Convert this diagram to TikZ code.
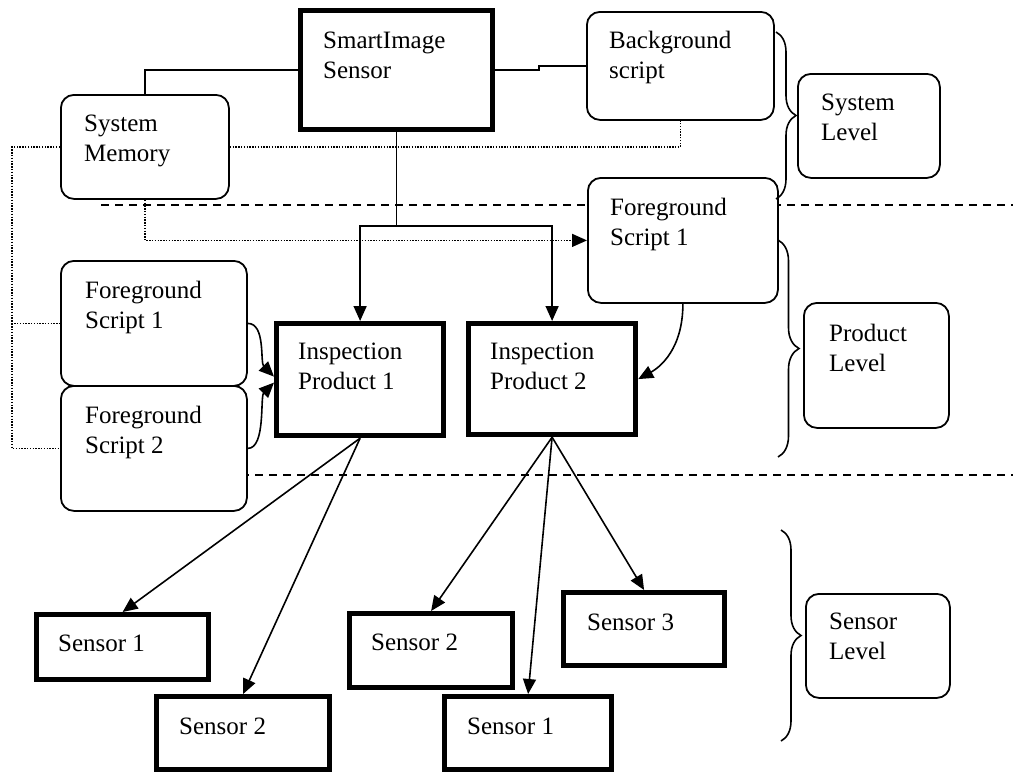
\documentclass[tikz,border=0pt]{standalone}
\usepackage{fontspec}
\setmainfont{Liberation Serif}
\usetikzlibrary{arrows.meta,calc,decorations.pathreplacing}
\tikzset{
 thickbox/.style={draw, line width=5.2pt, fill=white, anchor=north west, inner sep=0pt},
 rbox/.style={draw, line width=1.8pt, rounded corners=13pt, fill=white, anchor=north west, inner sep=0pt},
 txt/.style={anchor=north west, inner sep=0pt, align=left, font=\fontsize{25}{30}\selectfont},
 conn/.style={line width=1.6pt},
 dotconn/.style={line width=1.4pt, dash pattern=on 1.4pt off 1.4pt},
 dashln/.style={line width=1.5pt, dash pattern=on 8pt off 6pt},
 tipped/.style={-{Triangle[length=15pt,width=13pt]}},
 brc/.style={decorate, decoration={brace, amplitude=#1}, line width=1.6pt},
}
\begin{document}
\begin{tikzpicture}[x=1pt,y=-1pt]
\path[use as bounding box, fill=white] (0,0) rectangle (1013,772);

% level separators
\coordinate (d1a) at (101,205); \coordinate (d1b) at (1013,205);
\coordinate (d2a) at (101,475); \coordinate (d2b) at (1013,475);
\draw[dashln] (d1a) -- (d1b);
\draw[dashln] (d2a) -- (d2b);

% boxes
\node[thickbox, minimum width=192pt, minimum height=119pt] (sis) at (298,8) {};
\node[rbox, minimum width=168pt, minimum height=104pt] (sm) at (60,94) {};
\node[rbox, minimum width=187pt, minimum height=108pt] (bs) at (586,11) {};
\node[rbox, minimum width=142pt, minimum height=104pt] (sl) at (797,73) {};
\node[rbox, minimum width=190pt, minimum height=125pt] (fsr) at (587,177) {};
\node[rbox, minimum width=145pt, minimum height=125pt] (pl) at (803,302) {};
\node[rbox, minimum width=186pt, minimum height=125pt] (fs1) at (60,260) {};
\node[rbox, minimum width=186pt, minimum height=125pt] (fs2) at (60,385) {};
\node[thickbox, minimum width=167pt, minimum height=112pt] (ip1) at (274,321) {};
\node[thickbox, minimum width=167pt, minimum height=111pt] (ip2) at (466,321) {};
\node[rbox, minimum width=144pt, minimum height=104pt] (senl) at (805,593) {};
\node[thickbox, minimum width=172pt, minimum height=65pt] (s1l) at (34,612) {};
\node[thickbox, minimum width=173pt, minimum height=73pt] (s2bl) at (154,694) {};
\node[thickbox, minimum width=163pt, minimum height=74pt] (s2m) at (347,611) {};
\node[thickbox, minimum width=161pt, minimum height=73pt] (s3) at (561,590) {};
\node[thickbox, minimum width=167pt, minimum height=73pt] (s1bm) at (442,694) {};

% texts
\node[txt] (tsis) at (323,32) {SmartImage\\Sensor};
\node[txt] (tsm) at (84,115) {System\\Memory};
\node[txt] (tbs) at (609,31) {Background\\script};
\node[txt] (tsl) at (821,94) {System\\Level};
\node[txt] (tfsr) at (610,198) {Foreground\\Script 1};
\node[txt] (tfs1) at (85,281) {Foreground\\Script 1};
\node[txt] (tfs2) at (85,406) {Foreground\\Script 2};
\node[txt] (tip1) at (298,343) {Inspection\\Product 1};
\node[txt] (tip2) at (490,343) {Inspection\\Product 2};
\node[txt] (tpl) at (829,324) {Product\\Level};
\node[txt] (tsenl) at (829,613) {Sensor\\Level};
\node[txt] (ts1l) at (58,635) {Sensor 1};
\node[txt] (ts2bl) at (179,718) {Sensor 2};
\node[txt] (ts2m) at (371,634) {Sensor 2};
\node[txt] (ts3) at (587,614) {Sensor 3};
\node[txt] (ts1bm) at (467,718) {Sensor 1};

% solid connectors
\coordinate (bus) at (0,226);
\draw[conn] (sis.west) -| (sm.north);
\draw[conn] (sis.east) -- ($(sis.east)+(44,0)$) |- (bs.west);
\draw[conn] (sis.south) -- (sis.south |- bus);
\draw[conn,tipped] (sis.south |- bus) -| (ip1.north);
\draw[conn,tipped] (sis.south |- bus) -| (ip2.north);

% dotted connectors
\coordinate (lft) at (12,0);
\draw[dotconn] (sm.east) -| (bs.south);
\draw[dotconn] (sm.west) -| (lft |- fs1.west) -- (fs1.west);
\draw[dotconn] (lft |- fs1.west) |- (fs2.west);
\draw[dotconn,tipped] (sm.south) |- (fsr.west);

% curved script arrows
\draw[conn,tipped] (fs1.east) .. controls +(18,0) and +(-14,-14) .. ($(ip1.west)+(0,-3)$);
\draw[conn,tipped] (fs2.east) .. controls +(18,0) and +(-14,14) .. ($(ip1.west)+(0,3)$);
\draw[conn,tipped] (fsr.south) .. controls +(0,45) and +(22,-12) .. (ip2.east);

% sensor arrows
\draw[conn,tipped] (ip1.south) -- (s1l.north);
\draw[conn,tipped] (ip1.south) -- (s2bl.north);
\draw[conn,tipped] (ip2.south) -- (s2m.north);
\draw[conn,tipped] (ip2.south) -- (s1bm.north);
\draw[conn,tipped] (ip2.south) -- (s3.north);

% level braces
\draw[brc=20pt] (776,32) -- (776,199);
\draw[brc=21pt] (778,240) -- (778,457);
\draw[brc=20pt] (781,530) -- (781,741);
\end{tikzpicture}
\end{document}
